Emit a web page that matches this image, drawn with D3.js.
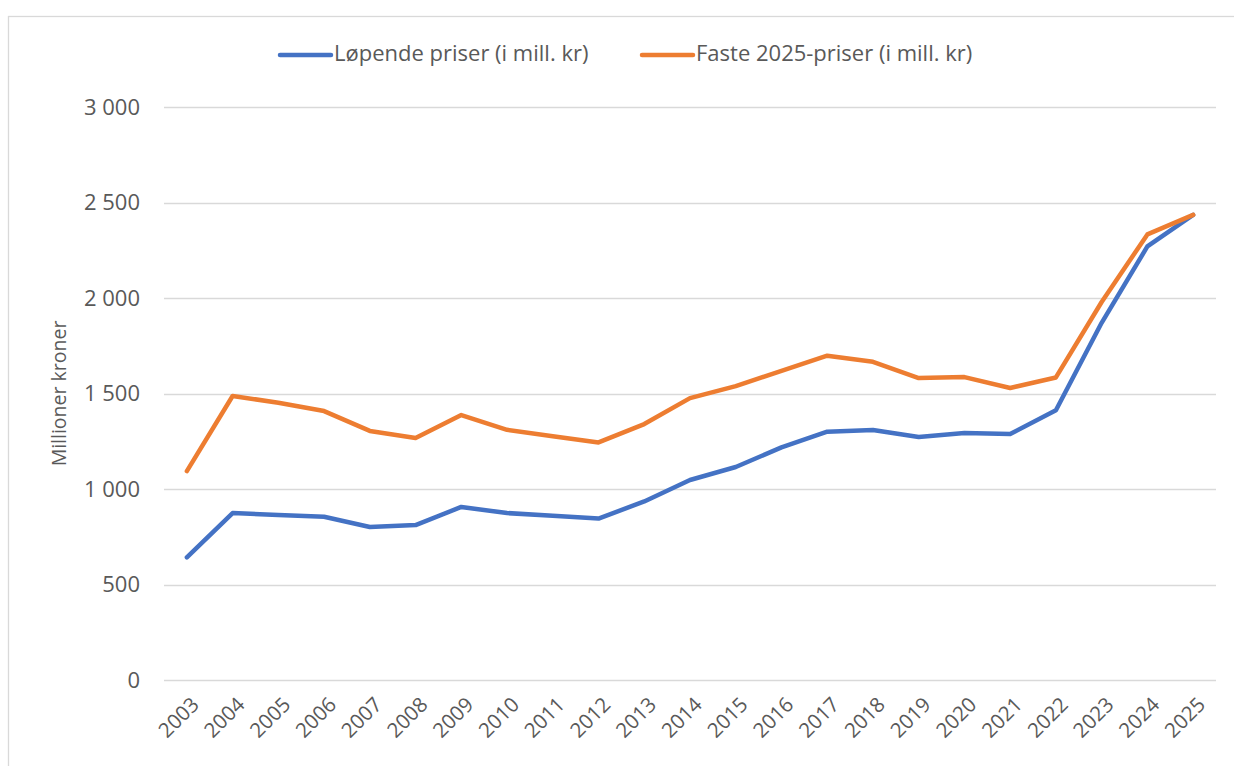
<!DOCTYPE html>
<html>
<head>
<meta charset="utf-8">
<title>Løpende og faste priser</title>
<script src="https://cdn.jsdelivr.net/npm/d3@7"></script>
<style>
  body { margin: 0; background: #fff; }
  text { font-family: "Open Sans", "Noto Sans", sans-serif; fill: #595959; }
</style>
</head>
<body>
<script>
// data
var years = ["2003","2004","2005","2006","2007","2008","2009","2010","2011","2012","2013",
             "2014","2015","2016","2017","2018","2019","2020","2021","2022","2023","2024","2025"];
var lopende = [642, 874, 864, 855, 801, 811, 906, 874, 860, 845, 935,
               1047, 1115, 1218, 1300, 1309, 1272, 1293, 1288, 1412, 1870, 2270, 2435];
var faste = [1094, 1487, 1452, 1408, 1304, 1267, 1387, 1310, 1276, 1244, 1340,
             1476, 1539, 1618, 1698, 1666, 1581, 1586, 1529, 1584, 1979, 2333, 2435];
var yTicks = [0, 500, 1000, 1500, 2000, 2500, 3000];
var seriesNames = ["Løpende priser (i mill. kr)", "Faste 2025-priser (i mill. kr)"];
var colors = ["#4472C4", "#ED7D31"];

var w = 1234, h = 766;
var plotLeft = 164, plotRight = 1216, plotTop = 107, plotBottom = 680;

var svg = d3.select("body").append("svg")
  .attr("width", w)
  .attr("height", h);

// chart frame
svg.append("rect")
  .attr("x", 8.5).attr("y", 16.5)
  .attr("width", 1240).attr("height", 770)
  .attr("fill", "none")
  .attr("stroke", "#d9d9d9")
  .attr("stroke-width", 1.3);

var x = d3.scalePoint().domain(years).range([plotLeft, plotRight]).padding(0.5);
var y = d3.scaleLinear().domain([0, 3000]).range([plotBottom, plotTop]);

// gridlines
svg.append("g")
  .selectAll("line")
  .data(yTicks)
  .enter().append("line")
  .attr("x1", plotLeft).attr("x2", plotRight)
  .attr("y1", function(d) { return Math.round(y(d)) + 0.5; })
  .attr("y2", function(d) { return Math.round(y(d)) + 0.5; })
  .attr("stroke", "#d9d9d9")
  .attr("stroke-width", 1.5);

// y axis labels (space as thousands separator)
var yAxis = d3.axisLeft(y).tickValues(yTicks).tickSize(0).tickPadding(0)
  .tickFormat(function(d) { return d >= 1000 ? Math.floor(d / 1000) + " " + String(d % 1000).padStart(3, "0") : String(d); });
var gy = svg.append("g").attr("transform", "translate(" + (plotLeft - 24) + ",0)").call(yAxis);
gy.select(".domain").remove();
gy.selectAll("text").attr("font-size", 22).style("fill", "#595959");

// x axis labels
var xAxis = d3.axisBottom(x).tickSize(0).tickPadding(0);
var gx = svg.append("g").attr("transform", "translate(0," + plotBottom + ")").call(xAxis);
gx.select(".domain").remove();
gx.selectAll("text")
  .attr("font-size", 20.5)
  .attr("text-anchor", "end")
  .attr("dy", null)
  .attr("y", 0)
  .attr("transform", "translate(9,22) rotate(-45)")
  .attr("dominant-baseline", "middle")
  .style("fill", "#595959");

// axis title
svg.append("text")
  .attr("transform", "translate(66," + ((plotTop + plotBottom) / 2) + ") rotate(-90)")
  .attr("text-anchor", "middle")
  .attr("font-size", 19.5)
  .text("Millioner kroner");

// lines
var line = d3.line()
  .x(function(d, i) { return x(years[i]); })
  .y(function(d) { return y(d); });

[lopende, faste].forEach(function(s, k) {
  svg.append("path")
    .datum(s)
    .attr("d", line)
    .attr("fill", "none")
    .attr("stroke", colors[k])
    .attr("stroke-width", 4.5)
    .attr("stroke-linejoin", "round")
    .attr("stroke-linecap", "round");
});

// legend
var legendX = [278, 640];
seriesNames.forEach(function(name, k) {
  var g = svg.append("g").attr("transform", "translate(" + legendX[k] + ",55)");
  g.append("line")
    .attr("x1", 2).attr("x2", 53)
    .attr("y1", 0).attr("y2", 0)
    .attr("stroke", colors[k])
    .attr("stroke-width", 4.5)
    .attr("stroke-linecap", "round");
  g.append("text")
    .attr("x", 56).attr("y", 0)
    .attr("dominant-baseline", "middle")
    .attr("font-size", 22)
    .text(name);
});
</script>
</body>
</html>
